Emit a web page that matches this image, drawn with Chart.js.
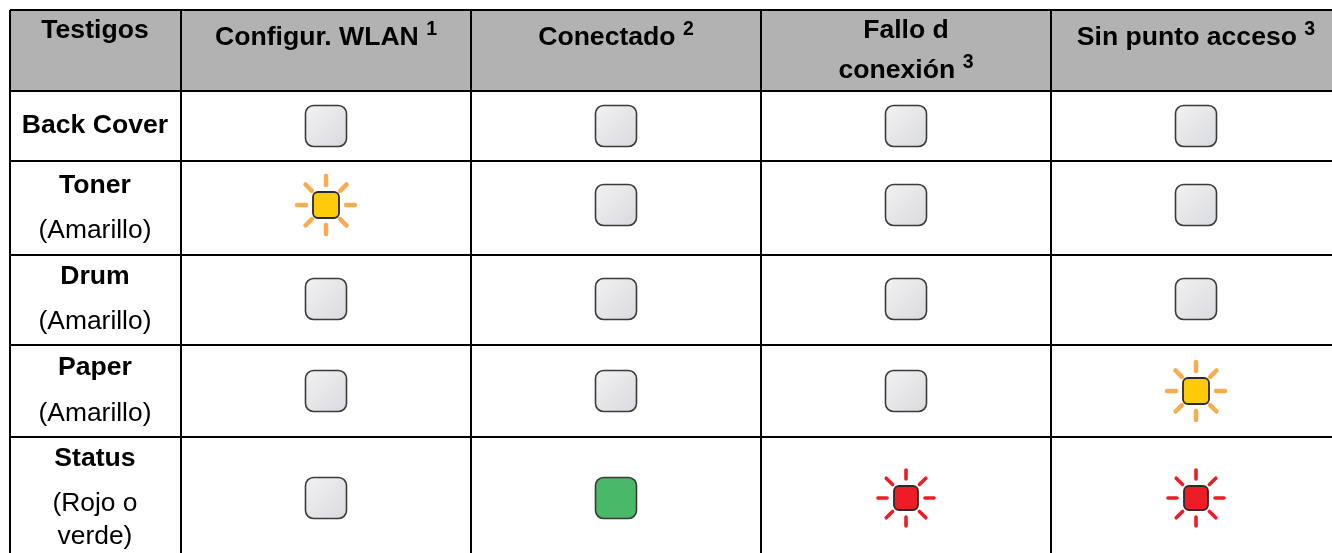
<!DOCTYPE html>
<html>
<head>
<meta charset="utf-8">
<style>
html, body { margin: 0; padding: 0; background: #fff; overflow: hidden; }
canvas { display: block; }
</style>
<script src="https://cdn.jsdelivr.net/npm/chart.js@4"></script>
</head>
<body>
<canvas id="chart" width="1332" height="553"></canvas>
<script>
// Table content
var firstHeader = "Testigos";
var columnTitles = [
    [["Configur. WLAN", "1"]],
    [["Conectado", "2"]],
    [["Fallo d", ""], ["conexión", "3"]],
    [["Sin punto acceso", "3"]]
];
var rowTitles = ["Back Cover", "Toner", "Drum", "Paper", "Status"];
var rowNotes = [[], ["(Amarillo)"], ["(Amarillo)"], ["(Amarillo)"], ["(Rojo o", "verde)"]];

// LED state per row, one list per column
var configWlan = ["off", "amber", "off", "off", "off"];
var conectado = ["off", "off", "off", "off", "green"];
var falloConexion = ["off", "off", "off", "off", "red"];
var sinPunto = ["off", "off", "off", "amber", "red"];
var columnStates = [configWlan, conectado, falloConexion, sinPunto];

// Table layout (scales below run in page pixels)
var xEdges = [10, 181, 471, 761, 1051, 1341];
var yEdges = [10, 91, 161, 255, 345, 437, 559];
var iconRowY = [126, 205, 299, 391, 498];
var headerBase = [45, 45, 38, 45];

function makeCanvas() {
    var c = document.createElement("canvas");
    c.width = 72;
    c.height = 72;
    return c;
}

function roundSquare(g, size, radius) {
    g.beginPath();
    g.roundRect(36 - size / 2, 36 - size / 2, size, size, radius);
}

function plainLed(fillA, fillB) {
    var c = makeCanvas();
    var g = c.getContext("2d");
    var grad = g.createLinearGradient(15, 15, 57, 57);
    grad.addColorStop(0, fillA);
    grad.addColorStop(1, fillB);
    roundSquare(g, 41, 8);
    g.fillStyle = grad;
    g.fill();
    g.lineWidth = 1.6;
    g.strokeStyle = "#3a3a3a";
    g.stroke();
    return c;
}

function flashLed(fill, rayColor, size, rayWidth, inner, outer) {
    var c = makeCanvas();
    var g = c.getContext("2d");
    g.strokeStyle = rayColor;
    g.lineWidth = rayWidth;
    g.lineCap = "round";
    for (var i = 0; i < 8; i++) {
        var a = i * Math.PI / 4;
        g.beginPath();
        g.moveTo(36 + Math.cos(a) * inner, 36 + Math.sin(a) * inner);
        g.lineTo(36 + Math.cos(a) * outer, 36 + Math.sin(a) * outer);
        g.stroke();
    }
    roundSquare(g, size, 5);
    g.fillStyle = fill;
    g.fill();
    g.lineWidth = 1.8;
    g.strokeStyle = "#2b2b2b";
    g.stroke();
    return c;
}

var icons = {
    off: plainLed("#f2f2f4", "#d9dade"),
    green: plainLed("#49b869", "#49b869"),
    amber: flashLed("#ffcb08", "#f9ab4f", 26, 4.5, 20, 29),
    red: flashLed("#ee1c25", "#ee1c25", 24, 3.6, 19, 28)
};

var datasets = columnStates.map(function(states, col) {
    return {
        label: columnTitles[col].map(function(l) { return l[0]; }).join(" "),
        data: states.map(function(state, row) {
            return { x: (xEdges[col + 1] + xEdges[col + 2]) / 2, y: iconRowY[row], state: state };
        }),
        showLine: false,
        pointRadius: 30,
        pointStyle: function(ctx) {
            return icons[ctx.raw ? ctx.raw.state : "off"];
        }
    };
});

function edgeTicks(edges) {
    return function(scale) {
        scale.ticks = edges.map(function(v) { return { value: v }; });
    };
}

var tablePlugin = {
    id: "tablePlugin",
    beforeDraw: function(chart) {
        var g = chart.ctx, x = chart.scales.x, y = chart.scales.y;
        g.save();
        g.fillStyle = "#fff";
        g.fillRect(0, 0, chart.width, chart.height);
        g.fillStyle = "#b2b2b2";
        g.fillRect(x.getPixelForValue(xEdges[0]), y.getPixelForValue(yEdges[0]),
            chart.width, y.getPixelForValue(yEdges[1]) - y.getPixelForValue(yEdges[0]));
        g.restore();
    },
    afterDatasetsDraw: function(chart) {
        var g = chart.ctx, x = chart.scales.x, y = chart.scales.y;
        var bold = "bold 26.6px 'Liberation Sans'";
        var plain = "26.4px 'Liberation Sans'";
        var sup = "bold 19.5px 'Liberation Sans'";
        var firstCenter = x.getPixelForValue((xEdges[0] + xEdges[1]) / 2) - 0.5;
        g.save();
        g.fillStyle = "#000";
        g.textBaseline = "alphabetic";

        g.textAlign = "center";
        g.font = bold;
        g.fillText(firstHeader, firstCenter, y.getPixelForValue(38));

        // column headers, superscript counted into the centring
        g.textAlign = "left";
        columnTitles.forEach(function(lines, col) {
            var center = x.getPixelForValue((xEdges[col + 1] + xEdges[col + 2]) / 2);
            lines.forEach(function(line, i) {
                var base = y.getPixelForValue(headerBase[col] + i * 40);
                var text = line[0] + (line[1] ? " " : "");
                g.font = bold;
                var w = g.measureText(text).width;
                g.font = sup;
                var w2 = line[1] ? g.measureText(line[1]).width : 0;
                var left = center - (w + w2) / 2;
                g.font = bold;
                g.fillText(text, left, base);
                if (line[1]) {
                    g.font = sup;
                    g.fillText(line[1], left + w, base - 10);
                }
            });
        });

        // row headers
        var titleBase = [133, 193, 284, 375, 466];
        var noteBase = [[], [238], [329], [421], [511, 544]];
        g.textAlign = "center";
        rowTitles.forEach(function(title, row) {
            g.font = bold;
            g.fillText(title, firstCenter, y.getPixelForValue(titleBase[row]));
            g.font = plain;
            rowNotes[row].forEach(function(note, i) {
                g.fillText(note, firstCenter, y.getPixelForValue(noteBase[row][i]));
            });
        });
        g.restore();
    }
};

new Chart(document.getElementById("chart"), {
    type: "scatter",
    data: { datasets: datasets },
    plugins: [tablePlugin],
    options: {
        responsive: false,
        animation: false,
        layout: { autoPadding: false, padding: { left: 10, top: 10, right: 0, bottom: 0 } },
        plugins: { legend: { display: false }, tooltip: { enabled: false } },
        scales: {
            x: {
                type: "linear",
                min: 10,
                max: 1332,
                afterBuildTicks: edgeTicks(xEdges.slice(0, 5)),
                border: { display: false },
                grid: { color: "#000", lineWidth: 2, drawTicks: false },
                ticks: { display: false, autoSkip: false }
            },
            y: {
                type: "linear",
                reverse: true,
                min: 10,
                max: 553,
                afterBuildTicks: edgeTicks(yEdges.slice(0, 6)),
                border: { display: false },
                grid: { color: "#000", lineWidth: 2, drawTicks: false },
                ticks: { display: false, autoSkip: false }
            }
        }
    }
});
</script>
</body>
</html>
